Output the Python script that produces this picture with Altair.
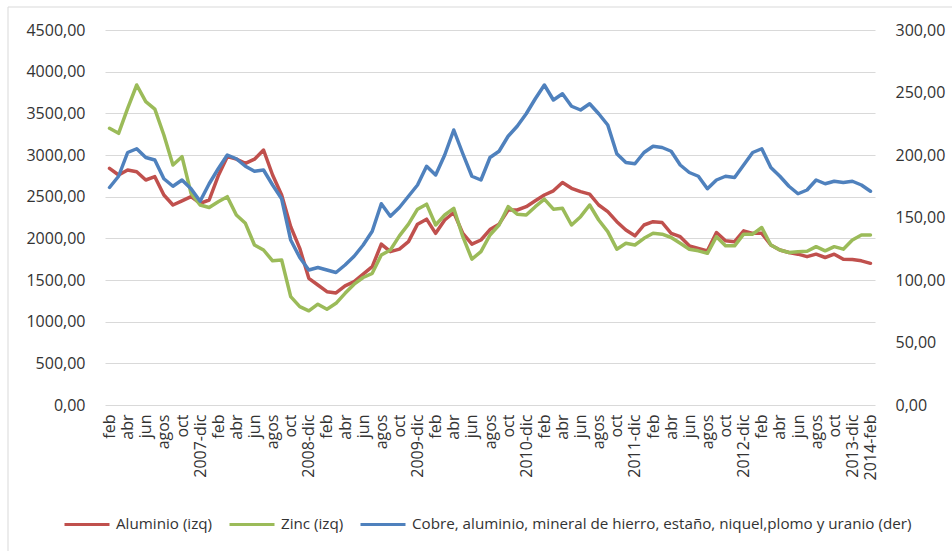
import json

import altair as alt
import pandas as pd

# Etiquetas del eje de categorías (cada dos meses, feb-2007 a feb-2014)
TICK_LABELS = [
    "feb", "abr", "jun", "agos", "oct", "2007-dic",
    "feb", "abr", "jun", "agos", "oct", "2008-dic",
    "feb", "abr", "jun", "agos", "oct", "2009-dic",
    "feb", "abr", "jun", "agos", "oct", "2010-dic",
    "feb", "abr", "jun", "agos", "oct", "2011-dic",
    "feb", "abr", "jun", "agos", "oct", "2012-dic",
    "feb", "abr", "jun", "agos", "oct", "2013-dic",
    "2014-feb",
]

# Precios mensuales (eje izquierdo)
ALUMINIO = [
    2840, 2760, 2820, 2800, 2700, 2740, 2520, 2400, 2450, 2500, 2420,
    2460, 2750, 2980, 2950, 2900, 2950, 3060, 2760, 2520, 2140, 1880,
    1520, 1440, 1360, 1345, 1430, 1480, 1570, 1660, 1930, 1840, 1870,
    1960, 2170, 2230, 2060, 2220, 2310, 2060, 1930, 1980, 2105, 2170,
    2340, 2340, 2380, 2450, 2520, 2570, 2670, 2600, 2560, 2530, 2400,
    2320, 2200, 2100, 2030, 2160, 2200, 2190, 2060, 2020, 1910, 1880,
    1850, 2070, 1970, 1960, 2090, 2060, 2060, 1920, 1860, 1830, 1810,
    1780, 1810, 1770, 1810, 1750, 1745, 1730, 1700,
]
ZINC = [
    3320, 3260, 3560, 3840, 3640, 3550, 3240, 2880, 2980, 2540, 2400,
    2370, 2440, 2500, 2280, 2180, 1920, 1860, 1730, 1740, 1300, 1180,
    1130, 1210, 1150, 1220, 1340, 1450, 1530, 1580, 1800, 1860, 2030,
    2170, 2350, 2410, 2160, 2280, 2360, 2020, 1750, 1840, 2040, 2160,
    2380, 2290, 2280, 2380, 2470, 2350, 2360, 2160, 2260, 2400, 2220,
    2080, 1870, 1940, 1920, 2000, 2060, 2050, 2010, 1940, 1870, 1850,
    1820, 2020, 1910, 1910, 2050, 2050, 2130, 1920, 1860, 1830, 1840,
    1845, 1900, 1850, 1900, 1870, 1980, 2040, 2040,
]
# Índice de metales (eje derecho)
COBRE = [
    174, 183, 202, 205, 198, 196, 181, 175, 180, 173, 163,
    177, 189, 200, 197, 191, 187, 188, 176, 165, 132, 118,
    108, 110, 108, 106, 112, 119, 128, 139, 161, 151, 158,
    167, 176, 191, 184, 200, 220, 201, 183, 180, 198, 203,
    215, 223, 233, 245, 256, 244, 249, 239, 236, 241, 233,
    224, 201, 194, 193, 202, 207, 206, 203, 192, 186, 183,
    173, 180, 183, 182, 192, 202, 205, 190, 183, 175, 169,
    172, 180, 177, 179, 178, 179, 176, 171,
]

SERIES = [
    "Aluminio (izq)",
    "Zinc (izq)",
    "Cobre, aluminio, mineral de hierro, estaño, niquel,plomo y uranio (der)",
]
COLORS = ["#C0504D", "#9BBB59", "#4F81BD"]
LEFT_TICKS = [0, 500, 1000, 1500, 2000, 2500, 3000, 3500, 4000, 4500]
RIGHT_TICKS = [0, 50, 100, 150, 200, 250, 300]

rows = []
for serie, vals in zip(SERIES, [ALUMINIO, ZINC, COBRE]):
    for i, v in enumerate(vals):
        rows.append({"mes": i, "serie": serie, "valor": v})
df = pd.DataFrame(rows)

FONT = "Open Sans"
AXIS_SIZE = 16
LEGEND_SIZE = 15.2
TEXT = "#333333"
GRID = "#D9D9D9"
W, H = 770, 375

x_label_expr = json.dumps(TICK_LABELS, ensure_ascii=False) + "[round(datum.value / 2)]"
num_expr = "replace(format(datum.value, '.2f'), '.', ',')"

x_enc = alt.X(
    "mes:Q",
    scale=alt.Scale(domain=[-0.5, len(ALUMINIO) - 0.5], nice=False, zero=False),
    axis=alt.Axis(
        values=list(range(0, len(ALUMINIO), 2)),
        labelExpr=x_label_expr,
        labelAngle=270,
        labelPadding=9,
        labelOverlap=False,
        labelFlush=False,
        labelFont=FONT,
        labelFontSize=AXIS_SIZE,
        labelColor=TEXT,
        grid=False,
        domain=False,
        ticks=False,
        title=None,
    ),
)

left_axis = alt.Axis(
    values=LEFT_TICKS,
    labelExpr=num_expr,
    orient="left",
    grid=True,
    gridColor=GRID,
    gridWidth=1,
    domain=False,
    ticks=False,
    labelPadding=20,
    labelFont=FONT,
    labelFontSize=AXIS_SIZE,
    labelColor=TEXT,
    title=None,
)
right_axis = alt.Axis(
    values=RIGHT_TICKS,
    labelExpr=num_expr,
    orient="right",
    grid=False,
    domain=False,
    ticks=False,
    labelPadding=20,
    labelFont=FONT,
    labelFontSize=AXIS_SIZE,
    labelColor=TEXT,
    title=None,
)

color_enc = alt.Color(
    "serie:N",
    scale=alt.Scale(domain=SERIES, range=COLORS),
    legend=alt.Legend(
        orient="none",
        legendX=-42,
        legendY=470,
        direction="horizontal",
        title=None,
        symbolType="stroke",
        symbolSize=2025,
        symbolStrokeWidth=3,
        labelFont=FONT,
        labelFontSize=LEGEND_SIZE,
        labelColor=TEXT,
        labelLimit=1000,
        labelOffset=5,
        columnPadding=10,
    ),
)

line_kw = dict(strokeWidth=3.5, strokeJoin="round", strokeCap="round")
base = alt.Chart(df)


def serie_line(name, y_scale_domain, axis):
    return (
        base.transform_filter(alt.datum.serie == name)
        .mark_line(**line_kw)
        .encode(
            x=x_enc,
            y=alt.Y("valor:Q", scale=alt.Scale(domain=y_scale_domain, nice=False), axis=axis),
            color=color_enc,
        )
    )


izquierda = alt.layer(
    serie_line(SERIES[0], [0, 4500], left_axis),
    serie_line(SERIES[1], [0, 4500], left_axis),
)
derecha = serie_line(SERIES[2], [0, 300], right_axis)

# Marco fino del área del gráfico
marco_df = pd.DataFrame({"k": [0]})
marco_sup = alt.Chart(marco_df).mark_rule(color=GRID, strokeWidth=1).encode(
    x=alt.value(-97), x2=alt.value(900), y=alt.value(-23)
)
marco_izq = alt.Chart(marco_df).mark_rule(color=GRID, strokeWidth=1).encode(
    x=alt.value(-97), y=alt.value(-23), y2=alt.value(560)
)

chart = (
    alt.layer(izquierda, derecha, marco_sup, marco_izq)
    .resolve_scale(y="independent")
    .properties(
        width=W,
        height=H,
        autosize=alt.AutoSizeParams(type="none"),
        padding={"left": 105, "top": 30, "right": 77, "bottom": 146},
        background="white",
    )
    .configure_view(stroke=None)
)

chart.save("out.html", embed_options={"renderer": "svg", "actions": False})
